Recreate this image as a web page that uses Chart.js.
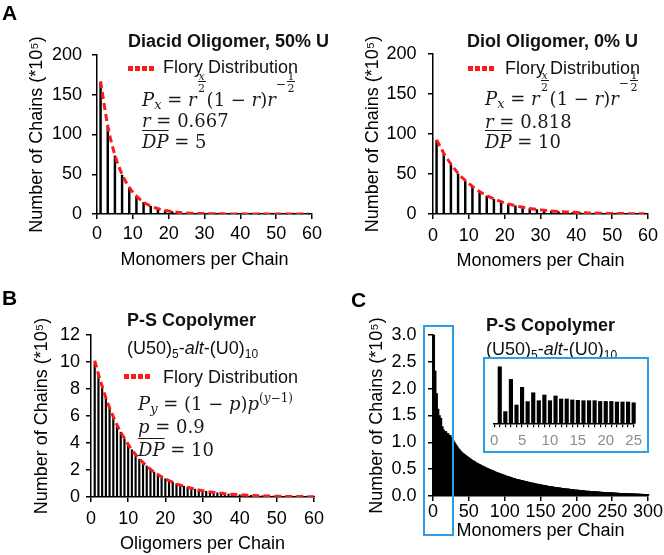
<!DOCTYPE html>
<html>
<head>
<meta charset="utf-8">
<script src="https://cdn.jsdelivr.net/npm/chart.js@4.4.1/dist/chart.umd.min.js"></script>
<style>
  body { margin: 0; background: #fff; }
  #wrap { position: relative; width: 664px; height: 555px; background: #fff; overflow: hidden; }
  canvas, .t, .f, .dots, .box, .pl { position: absolute; }
  .t { font-family: 'Liberation Sans', Arial, sans-serif; font-size: 18px; line-height: 18px; color: #111; white-space: nowrap; }
  .t b { font-weight: bold; }
  .t sub { font-size: 12px; vertical-align: baseline; position: relative; top: 4px; }
  .pl { font-family: 'Liberation Sans', Arial, sans-serif; font-weight: bold; font-size: 21px; line-height: 21px; color: #000; }
  .dots { height: 5px; background: repeating-linear-gradient(90deg, #ff1a1a 0 5px, transparent 5px 7px); }
  .f { font-family: 'DejaVu Serif', serif; font-size: 18px; line-height: 18px; color: #1a1a1a; white-space: nowrap; }
  .f i { font-style: italic; }
  .sb { font-size: 13px; position: relative; top: 3px; }
  .sp { font-size: 12px; position: relative; top: -8px; }
  .sm { font-size: 12px; position: relative; top: -18px; }
  .fr { display: inline-block; position: relative; width: 8px; height: 1px; margin: 0 1px; }
  .fr span { position: absolute; left: 0; right: 0; text-align: center; font-size: 11px; line-height: 9px; }
  .fr .n { bottom: 24px; border-bottom: 1px solid #1a1a1a; }
  .fr .d { bottom: 13px; }
  .ov { text-decoration: overline; }
  .box { border: 2px solid #2b9fe3; box-sizing: border-box; }
</style>
</head>
<body>
<div id="wrap">
  <canvas id="cA1" width="330" height="270" style="left:0;top:0"></canvas>
  <canvas id="cA2" width="334" height="270" style="left:330px;top:0"></canvas>
  <canvas id="cB" width="330" height="285" style="left:0;top:270px"></canvas>
  <canvas id="cC" width="334" height="285" style="left:330px;top:270px"></canvas>

  <div class="pl" style="left:2px;top:2px">A</div>
  <div class="pl" style="left:2px;top:287px">B</div>
  <div class="pl" style="left:351px;top:289px">C</div>

  <!-- panel A, left -->
  <div class="t" style="left:128px;top:32px"><b>Diacid Oligomer, 50% U</b></div>
  <div class="dots" style="left:128px;top:66px;width:28px"></div>
  <div class="t" style="left:163px;top:58px">Flory Distribution</div>
  <div class="f" style="left:142px;top:91px"><i>P</i><span class="sb"><i>x</i></span> = <i>r</i><span class="fr"><span class="n"><i>x</i></span><span class="d">2</span></span>(1 − <i>r</i>)<i>r</i><span class="sm">−</span><span class="fr"><span class="n">1</span><span class="d">2</span></span></div>
  <div class="f" style="left:142px;top:112px"><i>r</i> = 0.667</div>
  <div class="f" style="left:142px;top:133px"><span class="ov"><i>DP</i></span> = 5</div>

  <!-- panel A, right -->
  <div class="t" style="left:467px;top:32px"><b>Diol Oligomer, 0% U</b></div>
  <div class="dots" style="left:468px;top:66px;width:28px"></div>
  <div class="t" style="left:505px;top:59px">Flory Distribution</div>
  <div class="f" style="left:485px;top:90px"><i>P</i><span class="sb"><i>x</i></span> = <i>r</i><span class="fr"><span class="n"><i>x</i></span><span class="d">2</span></span>(1 − <i>r</i>)<i>r</i><span class="sm">−</span><span class="fr"><span class="n">1</span><span class="d">2</span></span></div>
  <div class="f" style="left:485px;top:113px"><i>r</i> = 0.818</div>
  <div class="f" style="left:485px;top:133px"><span class="ov"><i>DP</i></span> = 10</div>

  <!-- panel B -->
  <div class="t" style="left:127px;top:311px"><b>P-S Copolymer</b></div>
  <div class="t" style="left:127px;top:339px">(U50)<sub>5</sub>-<i>alt</i>-(U0)<sub>10</sub></div>
  <div class="dots" style="left:124px;top:374px;width:28px"></div>
  <div class="t" style="left:163px;top:368px">Flory Distribution</div>
  <div class="f" style="left:138px;top:395px"><i>P</i><span class="sb"><i>y</i></span> = (1 − <i>p</i>)<i>p</i><span class="sp">(<i>y</i>−1)</span></div>
  <div class="f" style="left:138px;top:418px"><i>p</i> = 0.9</div>
  <div class="f" style="left:138px;top:441px"><span class="ov"><i>DP</i></span> = 10</div>

  <!-- panel C -->
  <div class="t" style="left:486px;top:316px"><b>P-S Copolymer</b></div>
  <div class="t" style="left:486px;top:340px">(U50)<sub>5</sub>-<i>alt</i>-(U0)<sub>10</sub></div>
  <div class="box" style="left:423px;top:325px;width:31px;height:211px"></div>
  <div class="box" style="left:483px;top:357px;width:166px;height:96px;background:#fff">
    <canvas id="cIn" width="162" height="92" style="left:0;top:0"></canvas>
  </div>
</div>

<script>
const SANS = "'Liberation Sans', Arial, sans-serif";

// Panel A: chains per number of monomers (odd chain lengths)
const aMonomers = [1, 3, 5, 7, 9, 11, 13, 15, 17, 19, 21, 23, 25, 27, 29, 31, 33, 35, 37, 39, 41, 43, 45, 47, 49, 51, 53, 55, 57, 59];
const diacidChains = [165, 110, 73, 49, 32.7, 21.8, 14.5, 9.7, 6.5, 4.3, 2.9, 1.9, 1.3, 0.85, 0.57, 0.38, 0.25, 0.17, 0.11, 0.07, 0.05, 0.03, 0.02, 0.015, 0.01, 0.007, 0.005, 0.003, 0.002, 0.001];
const diacidFlory = [167, 111, 74, 50, 33.5, 22.5, 15, 10, 6.7, 4.5, 3, 2, 1.35, 0.9, 0.6, 0.4, 0.27, 0.18, 0.12, 0.08, 0.05, 0.035, 0.024, 0.016, 0.01, 0.007, 0.005, 0.003, 0.002, 0.001];
const diolChains = [92, 75, 61.5, 50, 41, 34, 27.5, 22.5, 18.4, 15, 12.3, 10.1, 8.3, 6.8, 5.5, 4.5, 3.7, 3.0, 2.5, 2.0, 1.7, 1.35, 1.1, 0.9, 0.75, 0.6, 0.5, 0.4, 0.33, 0.27];
const diolFlory = [93, 76, 62.5, 51, 42, 34.5, 28, 23, 19, 15.5, 12.6, 10.3, 8.5, 7, 5.7, 4.7, 3.8, 3.1, 2.6, 2.1, 1.7, 1.4, 1.15, 0.95, 0.78, 0.63, 0.52, 0.42, 0.35, 0.28];
const aXTicks = [0, 10, 20, 30, 40, 50, 60];
const aYTicks = [0, 50, 100, 150, 200];

// Panel B: chains per number of oligomers (1..60)
const bChains = [10.0, 9.0, 8.1, 7.3, 6.6, 5.9, 5.3, 4.8, 4.3, 3.9,
  3.5, 3.1, 2.8, 2.5, 2.3, 2.1, 1.85, 1.65, 1.5, 1.35,
  1.2, 1.1, 0.98, 0.88, 0.8, 0.72, 0.65, 0.58, 0.52, 0.47,
  0.42, 0.38, 0.34, 0.31, 0.28, 0.25, 0.22, 0.2, 0.18, 0.16,
  0.15, 0.13, 0.12, 0.11, 0.1, 0.09, 0.08, 0.07, 0.065, 0.058,
  0.052, 0.047, 0.042, 0.038, 0.034, 0.031, 0.028, 0.025, 0.022, 0.02];
const bFlory = [10.1, 9.1, 8.2, 7.35, 6.6, 5.95, 5.35, 4.8, 4.35, 3.9,
  3.5, 3.15, 2.85, 2.55, 2.3, 2.05, 1.85, 1.67, 1.5, 1.35,
  1.22, 1.1, 0.98, 0.88, 0.8, 0.72, 0.65, 0.58, 0.52, 0.47,
  0.42, 0.38, 0.34, 0.31, 0.28, 0.25, 0.22, 0.2, 0.18, 0.16,
  0.15, 0.13, 0.12, 0.11, 0.1, 0.09, 0.08, 0.07, 0.065, 0.058,
  0.052, 0.047, 0.042, 0.038, 0.034, 0.031, 0.028, 0.025, 0.022, 0.02];
const bXTicks = [0, 10, 20, 30, 40, 50, 60];
const bYTicks = [0, 2, 4, 6, 8, 10, 12];

// Panel C: chains per number of monomers (1..300)
const cChains = [
  3.0, 0.62, 2.33, 0.97, 1.91, 1.15, 1.62, 1.2, 1.5, 1.2,
  1.45, 1.29, 1.29, 1.24, 1.22, 1.2, 1.2, 1.2, 1.16, 1.16,
  1.16, 1.13, 1.13, 1.13, 1.09, 1.07, 1.05, 1.03, 1.01, 0.99,
  0.97, 0.95, 0.93, 0.91, 0.89, 0.87, 0.86, 0.84, 0.83, 0.81,
  0.80, 0.79, 0.78, 0.77, 0.76, 0.75, 0.74, 0.73, 0.72, 0.71,
  0.70, 0.69, 0.68, 0.67, 0.66, 0.65, 0.65, 0.64, 0.63, 0.62,
  0.61, 0.61, 0.60, 0.59, 0.59, 0.58, 0.57, 0.56, 0.56, 0.55,
  0.54, 0.54, 0.53, 0.52, 0.52, 0.51, 0.51, 0.50, 0.49, 0.49,
  0.48, 0.48, 0.47, 0.47, 0.46, 0.45, 0.45, 0.44, 0.44, 0.43,
  0.43, 0.42, 0.42, 0.41, 0.41, 0.40, 0.40, 0.39, 0.39, 0.38,
  0.38, 0.37, 0.37, 0.36, 0.36, 0.36, 0.35, 0.35, 0.34, 0.34,
  0.33, 0.33, 0.33, 0.32, 0.32, 0.31, 0.31, 0.31, 0.30, 0.30,
  0.30, 0.29, 0.29, 0.29, 0.28, 0.28, 0.28, 0.27, 0.27, 0.27,
  0.26, 0.26, 0.26, 0.25, 0.25, 0.25, 0.24, 0.24, 0.24, 0.24,
  0.23, 0.23, 0.23, 0.22, 0.22, 0.22, 0.22, 0.21, 0.21, 0.21,
  0.21, 0.20, 0.20, 0.20, 0.20, 0.19, 0.19, 0.19, 0.19, 0.18,
  0.18, 0.18, 0.18, 0.17, 0.17, 0.17, 0.17, 0.17, 0.16, 0.16,
  0.16, 0.16, 0.16, 0.15, 0.15, 0.15, 0.15, 0.15, 0.14, 0.14,
  0.14, 0.14, 0.14, 0.14, 0.13, 0.13, 0.13, 0.13, 0.13, 0.13,
  0.12, 0.12, 0.12, 0.12, 0.12, 0.12, 0.11, 0.11, 0.11, 0.11,
  0.11, 0.11, 0.11, 0.10, 0.10, 0.10, 0.10, 0.10, 0.10, 0.10,
  0.095, 0.095, 0.09, 0.09, 0.09, 0.09, 0.09, 0.09, 0.085, 0.085,
  0.085, 0.085, 0.085, 0.08, 0.08, 0.08, 0.08, 0.08, 0.078, 0.075,
  0.075, 0.075, 0.072, 0.072, 0.07, 0.07, 0.07, 0.068, 0.068, 0.066,
  0.066, 0.065, 0.064, 0.063, 0.062, 0.062, 0.061, 0.06, 0.06, 0.058,
  0.058, 0.057, 0.056, 0.055, 0.055, 0.054, 0.053, 0.052, 0.052, 0.051,
  0.05, 0.05, 0.049, 0.048, 0.048, 0.047, 0.046, 0.046, 0.045, 0.044,
  0.044, 0.043, 0.043, 0.042, 0.041, 0.041, 0.04, 0.04, 0.039, 0.039,
  0.038, 0.038, 0.037, 0.037, 0.036, 0.036, 0.035, 0.035, 0.034, 0.034,
  0.033, 0.033, 0.032, 0.032, 0.031, 0.031, 0.03, 0.03, 0.03, 0.029];
const cXTicks = [0, 50, 100, 150, 200, 250, 300];
const cYTicks = [0, 0.5, 1.0, 1.5, 2.0, 2.5, 3.0];
const insetXTicks = [0, 1, 2, 3, 4, 5, 6, 7, 8, 9, 10, 11, 12, 13, 14, 15, 16, 17, 18, 19, 20, 21, 22, 23, 24, 25];

const Y_TITLE = 'Number of Chains (*10\u2075)';
const RED = '#ff1a1a';

function pts(xs, ys) {
    return ys.map((y, i) => ({ x: xs[i], y: y }));
}

function bars(xs, ys, thick) {
    return { type: 'bar', data: pts(xs, ys), backgroundColor: '#000', barThickness: thick, order: 1, clip: false };
}

function flory(xs, ys) {
    return {
        type: 'line', data: pts(xs, ys), borderColor: RED, borderWidth: 3, borderDash: [7, 4],
        pointRadius: 0, tension: 0.4, cubicInterpolationMode: 'monotone', fill: false, order: 0
    };
}

function panel(id, o) {
    const font = { family: SANS, size: 18 };
    const half = 18 * 1.2 / 2;
    const grid = { display: true, drawOnChartArea: false, drawTicks: true, tickLength: 5, color: '#000', lineWidth: 1.5, offset: false };
    const border = { display: true, color: '#000', width: 1.5 };
    return new Chart(document.getElementById(id), {
        type: 'bar',
        data: { datasets: o.datasets },
        options: {
            responsive: false, animation: false, events: [],
            layout: { padding: { top: o.area.t, right: o.w - o.area.r, bottom: 0, left: 0 } },
            plugins: { legend: { display: false }, tooltip: { enabled: false } },
            scales: {
                x: {
                    type: 'linear', position: 'bottom', offset: false,
                    min: o.xTicks[0], max: o.xTicks[o.xTicks.length - 1],
                    afterBuildTicks: s => { s.ticks = o.xTicks.map(v => ({ value: v })); },
                    afterFit: s => { s.height = o.h - o.area.b; },
                    ticks: { color: '#000', font: font, padding: o.xTickPad, maxRotation: 0, autoSkip: false },
                    grid: grid, border: border,
                    title: { display: true, text: o.xTitle, color: '#000', font: font, padding: { top: 0, bottom: o.h - o.xTitleY - half } }
                },
                y: {
                    type: 'linear', position: 'left',
                    min: o.yTicks[0], max: o.yTicks[o.yTicks.length - 1],
                    afterBuildTicks: s => { s.ticks = o.yTicks.map(v => ({ value: v })); },
                    afterFit: s => { s.width = o.area.l; },
                    ticks: { color: '#000', font: font, padding: o.yTickPad, callback: o.yFmt || (v => v) },
                    grid: grid, border: border,
                    title: { display: true, text: Y_TITLE, color: '#000', font: font, padding: { top: o.yTitleX - half, bottom: 0 } }
                }
            }
        }
    });
}

const bX = bChains.map((_, i) => i + 1);
const cX = cChains.map((_, i) => i + 1);

panel('cA1', {
    w: 330, h: 270, area: { l: 97, r: 312, t: 55, b: 214 },
    yTitleX: 37, xTitleY: 260, yTickPad: 10, xTickPad: 4,
    xTicks: aXTicks, yTicks: aYTicks, xTitle: 'Monomers per Chain',
    datasets: [bars(aMonomers, diacidChains, 1.8), flory(aMonomers, diacidFlory)]
});

panel('cA2', {
    w: 334, h: 270, area: { l: 103, r: 318, t: 54, b: 214 },
    yTitleX: 43, xTitleY: 261, yTickPad: 11.5, xTickPad: 6,
    xTicks: aXTicks, yTicks: aYTicks, xTitle: 'Monomers per Chain',
    datasets: [bars(aMonomers, diolChains, 1.8), flory(aMonomers, diolFlory)]
});

panel('cB', {
    w: 330, h: 285, area: { l: 91, r: 315, t: 65, b: 227 },
    yTitleX: 42, xTitleY: 274, yTickPad: 6, xTickPad: 6,
    xTicks: bXTicks, yTicks: bYTicks, xTitle: 'Oligomers per Chain',
    datasets: [bars(bX, bChains, 1.5), flory(bX, bFlory)]
});

panel('cC', {
    w: 334, h: 285, area: { l: 103, r: 318, t: 65, b: 226 },
    yTitleX: 47, xTitleY: 261, yTickPad: 11.5, xTickPad: 0,
    xTicks: cXTicks, yTicks: cYTicks, xTitle: 'Monomers per Chain',
    yFmt: v => v.toFixed(1),
    datasets: [bars(cX, cChains, 2)]
});

// Inset: zoom on the first 25 chain lengths of panel C
new Chart(document.getElementById('cIn'), {
    type: 'bar',
    data: { datasets: [bars(cX.slice(0, 25), cChains.slice(0, 25), 3.5)] },
    options: {
        responsive: false, animation: false, events: [],
        layout: { padding: { top: 4, right: 9.7, bottom: 0, left: 8 } },
        plugins: { legend: { display: false }, tooltip: { enabled: false } },
        scales: {
            x: {
                type: 'linear', offset: false, min: 0, max: 25,
                afterBuildTicks: s => { s.ticks = insetXTicks.map(v => ({ value: v })); },
                afterFit: s => { s.height = 92 - 64.3; },
                ticks: { color: '#8c8c8c', font: { family: SANS, size: 15 }, padding: 5, maxRotation: 0, autoSkip: false,
                    callback: v => (v % 5 === 0 ? v : '') },
                grid: { display: true, drawOnChartArea: false, drawTicks: true, tickLength: 4, color: '#000', lineWidth: 1.2, offset: false },
                border: { display: true, color: '#000', width: 1.5 }
            },
            y: { display: false, min: 0, max: 3.2 }
        }
    }
});
</script>
</body>
</html>
